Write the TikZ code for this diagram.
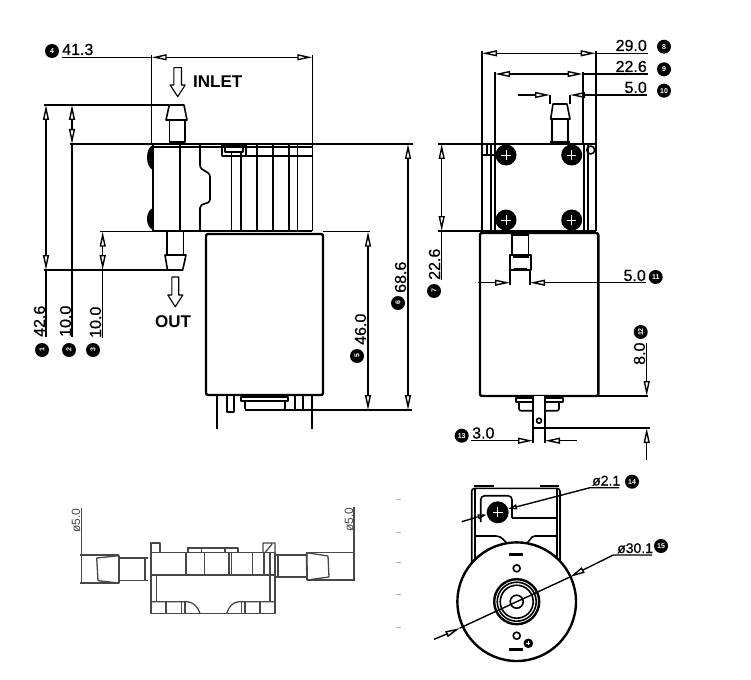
\documentclass[tikz,border=0pt]{standalone}
\usepackage{fontspec}
\setmainfont{Liberation Sans}
\newfontfamily\dimfont[FakeBold=0.6]{Liberation Sans}
\usetikzlibrary{arrows.meta}

\begin{document}
\begin{tikzpicture}[x=1pt,y=-1pt,line join=round,
  part/.style={line width=1.6pt},
  heavy/.style={line width=2.4pt},
  soft/.style={line width=1.3pt,draw=black!72},
  dimline/.style={line width=1.4pt},
  dimtips/.style={dimline,{Triangle[open,length=15pt,width=6pt]}-{Triangle[open,length=15pt,width=6pt]}},
  dimtip/.style={dimline,-{Triangle[open,length=15pt,width=6pt]}},
  dimshort/.style={dimline,-{Triangle[open,length=9pt,width=5pt]}},
  dimlabel/.style={inner sep=0pt,font=\dimfont\fontsize{16}{16}\selectfont},
  holelabel/.style={inner sep=0pt,font=\dimfont\fontsize{14}{14}\selectfont},
  softlabel/.style={inner sep=0pt,text=black!72,font=\fontsize{12}{12}\selectfont},
  portlabel/.style={inner sep=0pt,font=\fontsize{17}{17}\selectfont\bfseries},
  badge/.style={circle,fill=black,inner sep=0pt,minimum size=14pt,text=white,font=\fontsize{7}{7}\selectfont\bfseries},
  flowarrow/.style={line width=1.1pt,fill=white}]

\useasboundingbox (0,0) rectangle (751,679);

\newcommand{\badgeat}[4][0] % [rotate][name][pos][num]
{
 \node[badge,rotate=#1] (#2) at (#3) {#4};
}
\newcommand{\screw}[3] % [x][y][r]
{
 \fill (#1,#2) circle (#3);
 \draw[white,line width=.7pt] (#1-#3*.45,#2) -- (#1+#3*.45,#2) (#1,#2-#3*.45) -- (#1,#2+#3*.45);
}
\newcommand{\flow}[5] % [x][top][neck][bottom][half width of shaft]
{
 \draw[flowarrow] (#1-#5,#2) -- (#1+#5,#2) -- (#1+#5,#3) -- (#1+7.5,#3)
  -- (#1,#4) -- (#1-7.5,#3) -- (#1-#5,#3) -- cycle;
}

% front view, pump head
\draw[part] (152,147) -- (312,147) (152,231) -- (312,231);
\draw[heavy] (153,144) -- (153,231);
\fill (153,145) .. controls (145,148) and (145,167) .. (153,170) -- cycle;
\fill (153,208) .. controls (145,211) and (145,227) .. (153,230) -- cycle;
\foreach \x in {180,231.3,241,256.7,272.7,288.7,297.3,312.3}
 \draw[part] (\x,144) -- (\x,231);
\draw[part] (200,144) -- (200,165) .. controls (200,172) and (210,170) .. (210,177)
 -- (210,200) .. controls (210,205) and (200,202) .. (200,208) -- (200,231);
\draw[part] (222,156) -- (312,156);
\draw[part] (222,145) rectangle (246,156);
\draw[part,fill=white] (225,147) rectangle (243,152);

% front view, fittings
\draw[part] (169.3,105) -- (184,105) -- (187,120) -- (166,120) -- cycle;
\draw[part] (169.3,120) -- (169.3,142) -- (185,142) -- (185,120);
\draw[part] (166.7,232) -- (166.7,255) (183.3,232) -- (183.3,255);
\draw[part] (165,255) -- (186,255) -- (182.7,270) -- (167.5,270) -- cycle;

% front view, motor
\draw[heavy,rounded corners=2pt] (206,234) rectangle (323,395);
\draw[heavy] (216.7,395) -- (216.7,429) (312,395) -- (312,429);
\draw[part] (226.7,395) rectangle (234,411.7);
\draw[part] (241,397) rectangle (288,401);
\draw[part,rounded corners=2pt] (245,401) -- (245,410) -- (285,410) -- (285,401);
\foreach \x in {295,303}
 \draw[part] (\x,395) -- (\x,410);

% flow arrows and port names
\flow{177.7}{67.7}{85}{96.7}{3.8}
\node[portlabel,anchor=base west] (inletname) at (193,88) {INLET};
\flow{175.3}{277}{295}{306.7}{3.4}
\node[portlabel,anchor=base] (outname) at (173,327) {OUT};

% front view, dimensions
\draw[dimline] (151.7,55) -- (151.7,144) (312.3,55) -- (312.3,144);
\draw[dimline] (62,57.3) -- (151.7,57.3);
\draw[dimtips] (151.7,57.3) -- (312.3,57.3);
\node[dimlabel,anchor=base west] (dimA) at (62,55) {41.3};
\badgeat{tagA}{52,51}{4}

\draw[dimline] (44,105) -- (184,105);
\draw[dimline] (70,144) -- (413,144);
\draw[dimline] (100,231.7) -- (152,231.7) (323,231.7) -- (370,231.7);
\draw[dimline] (44,270) -- (167,270);
\draw[dimline] (245,410) -- (412,410);

\draw[dimtips] (46,105) -- (46,270);
\draw[dimline] (46,270) -- (46,337);
\node[dimlabel,rotate=90,anchor=base west] (dimB) at (45,337) {42.6};
\badgeat[90]{tagB}{42,350}{1}

\draw[dimtips] (72,105) -- (72,144);
\draw[dimline] (72,144) -- (72,337);
\node[dimlabel,rotate=90,anchor=base west] (dimC) at (71,337) {10.0};
\badgeat[90]{tagC}{69,350}{2}

\draw[dimtips] (102.7,231.7) -- (102.7,270);
\draw[dimline] (102.7,270) -- (102.7,338);
\node[dimlabel,rotate=90,anchor=base west] (dimD) at (101,338) {10.0};
\badgeat[90]{tagD}{93,350}{3}

\draw[dimtips] (368,231.7) -- (368,410);
\node[dimlabel,rotate=90,anchor=base west] (dimE) at (366,345) {46.0};
\badgeat[90]{tagE}{357,356}{5}

\draw[dimtips] (408,144) -- (408,410);
\node[dimlabel,rotate=90,anchor=base west] (dimF) at (406,293) {68.6};
\badgeat[90]{tagF}{398,303}{6}

% side view, pump head
\draw[part] (482,51) -- (482,231) (491,144) -- (491,231);
\draw[part] (596,51) -- (596,231) (588,144) -- (588,231);
\draw[part] (495,72) -- (495,144) (582.7,72) -- (582.7,144);
\draw[heavy] (495,144) -- (495,231) (584,144) -- (584,231);
\draw[part] (438,144) -- (596,144) (438,231) -- (482,231) (482,231) -- (596,231);
\draw[part] (482,155) -- (495,155) (487,145) -- (487,155);
\draw[part] (590.7,150) circle (4);
\foreach \x in {506,571.7}
 \foreach \y in {155,220}
  {\screw{\x}{\y}{10.5}}

% side view, fittings
\draw[part] (553,104) -- (567,104) -- (570,119) -- (550.7,119) -- cycle;
\draw[part] (551.7,119) -- (551.7,142) -- (568,142) -- (568,119);
\draw[part] (550,142) -- (570,142);
\draw[part,rounded corners=1pt] (480,233) -- (598.3,233);
\fill (511,232) rectangle (529,236);
\draw[part] (511.7,233) -- (511.7,255) (528.3,233) -- (528.3,255);
\draw[part] (510,255) rectangle (530.7,270);
\draw[part] (512.5,257) -- (529,257) (514,269) -- (527,269);

% side view, motor
\draw[heavy,rounded corners=2pt] (480,233) rectangle (598.3,396);
\draw[part] (516,398) rectangle (562.7,402);
\draw[part,rounded corners=2pt] (519,402) -- (519,410.7) -- (559,410.7) -- (559,402);
\draw[part,fill=white] (533,396) -- (533,428) -- (545,428) -- (545,396);
\draw[part] (539,420.7) circle (2.5);

% side view, dimensions
\draw[dimline] (595.7,53.3) -- (647.7,53.3);
\draw[dimtips] (482,53.3) -- (595.7,53.3);
\node[dimlabel,anchor=base east] (dimG) at (647,51) {29.0};
\badgeat{tagG}{664,46.7}{8}

\draw[dimline] (582.7,74) -- (648,74);
\draw[dimtips] (495,74) -- (582.7,74);
\node[dimlabel,anchor=base east] (dimH) at (647,72) {22.6};
\badgeat{tagH}{664,69.3}{9}

\draw[dimline] (550,95) -- (550,104) (570,95) -- (570,104);
\draw[dimtip] (518,95) -- (550,95);
\draw[dimtip] (646.7,95) -- (570,95);
\node[dimlabel,anchor=base east] (dimI) at (647,93) {5.0};
\badgeat{tagI}{664,90.7}{10}

\draw[dimtips] (441.7,144) -- (441.7,231);
\draw[dimline] (441.7,231) -- (441.7,280);
\node[dimlabel,rotate=90,anchor=base west] (dimJ) at (440,280) {22.6};
\badgeat[90]{tagJ}{434,291}{7}

\draw[dimline] (510,270) -- (510,285) (530,270) -- (530,285);
\draw[dimtip] (478,282.7) -- (510,282.7);
\draw[dimtip] (646,282.7) -- (530,282.7);
\node[dimlabel,anchor=base east] (dimK) at (646,281) {5.0};
\badgeat{tagK}{655.7,277}{11}

\draw[dimline] (598,396) -- (648,396) (545,428) -- (650,428);
\draw[dimtip] (646.7,343) -- (646.7,396);
\draw[dimtip] (646.7,460) -- (646.7,428);
\node[dimlabel,rotate=90,anchor=base west] (dimL) at (645,365) {8.0};
\badgeat[90]{tagL}{640.7,332}{12}

\draw[dimline] (533,428) -- (533,442.7) (545,428) -- (545,442.7);
\draw[dimtip] (470.7,440.7) -- (533,440.7);
\draw[dimtip] (576.7,440.7) -- (545,440.7);
\node[dimlabel,anchor=base west] (dimM) at (472,438.5) {3.0};
\badgeat{tagM}{461.7,435.7}{13}

% plan view
\draw[soft] (81.7,508) -- (81.7,583) (354,507) -- (354,580);
\draw[soft] (80,555) -- (119,555) (80,583) -- (119,583);
\draw[soft] (307,552.7) -- (355,552.7) (307,580) -- (355,580);
\node[softlabel,rotate=90,anchor=base west] (dimN) at (80,533) {ø5.0};
\node[softlabel,rotate=90,anchor=base west] (dimO) at (353,532) {ø5.0};
\draw[soft] (119,555.7) -- (96.7,558) -- (98,580.7) -- (119,583) -- cycle;
\draw[soft,line width=1.8pt] (119,555.7) -- (119,583);
\draw[soft] (119,558) -- (148,558) (119,580.7) -- (148,580.7) (145,558) -- (145,580.7);
\draw[soft] (151,552.7) -- (275,552.7) -- (275,613.3) -- (151,613.3) -- cycle;
\draw[soft] (151,575) -- (275,575);
\draw[soft] (151,543) rectangle (160,552.7);
\draw[soft] (263,552.7) -- (263,543) -- (275,543) -- (275,552.7) (265,552.7) -- (272,544);
\draw[soft] (188,552.7) -- (188,548) -- (238,548) -- (238,552.7) (201.7,548) -- (201.7,552.7) (225,548) -- (225,552.7);
\foreach \x in {186,204.3,229,231.3,252.7,264,270}
 \draw[soft] (\x,552.7) -- (\x,575);
\draw[soft] (156.7,575) -- (156.7,601.7) (270,575) -- (270,601.7);
\draw[soft] (151,601.7) -- (187,601.7) .. controls (193,601.7) and (198,607) .. (200,613.3);
\draw[soft] (275,601.7) -- (239,601.7) .. controls (233,601.7) and (228.7,607) .. (226.7,613.3);
\foreach \x in {166,181.7,185,241.7,245,260}
 \draw[soft] (\x,601.7) -- (\x,613.3);
\draw[soft] (275,555) -- (278,555) -- (306.7,555) (275,577) -- (306.7,577) (278,555) -- (278,577);
\draw[soft] (306.7,552.7) -- (328,556) -- (329,577) -- (307,580) -- cycle;
\draw[soft,line width=1.8pt] (306.7,552.7) -- (307,580);
\foreach \y in {499.3,532.3,562,594.7,627.3}
 \draw[black!30,line width=.7pt] (396,\y) -- (400.7,\y);

% end view
\draw[part,rounded corners=3pt] (471.7,570) -- (471.7,488.3) -- (560,488.3) -- (560,570);
\draw[part] (475,488.3) -- (475,570) (556.7,488.3) -- (556.7,570);
\draw[heavy] (474,486) -- (494,486) (540,486) -- (559,486);
\draw[part,rounded corners=4pt] (480.7,522) -- (480.7,495.7) -- (512,495.7) -- (512,518);
\draw[part] (512,518) -- (556.7,518);
\draw[part] (475,536) -- (496,536) .. controls (502,536) and (504,541) .. (508,544);
\draw[part] (556.7,536) -- (535,536) .. controls (531,536) and (530,541) .. (526,544);
\screw{497.7}{512.3}{11}
\draw[heavy,fill=white] (516.7,601.7) circle (59.3);
\draw[heavy] (516.7,601.7) circle (22.5);
\draw[part] (516.7,601.7) circle (19.5);
\draw[part] (516.7,601.7) circle (16.5);
\draw[part] (516.7,601.7) circle (6.5);
\draw[heavy] (509,554.3) -- (523,554.3) (509,649.3) -- (523,649.3);
\draw[part] (516.7,568.3) circle (3.5) (516.7,635.7) circle (3.5);
\screw{528.3}{643.3}{4.8}

% end view, dimensions
\draw[dimline] (461.7,521.7) -- (477.5,517) (517,506.7) -- (590,487.7) -- (619,487.7);
\draw[dimshort] (477.5,517) -- (486.7,514.5);
\draw[dimshort] (517,506.7) -- (508,509);
\node[holelabel,anchor=base west] (dimP) at (592,485.5) {ø2.1};
\badgeat{tagP}{632,481.7}{14}

\coordinate (bendQ) at (613.3,555);
\draw[dimline] (652,555) -- (bendQ) -- (585,569) (448,633.5) -- (434,639.3);
\draw[dimline] (570,577) -- (460,628);
\draw[dimtip] (585,569) -- (570,577);
\draw[dimtip] (447,634) -- (460,628);
\node[holelabel,anchor=base west] (dimQ) at (617,553) {ø30.1};
\badgeat{tagQ}{661,546}{15}

\end{tikzpicture}
\end{document}
